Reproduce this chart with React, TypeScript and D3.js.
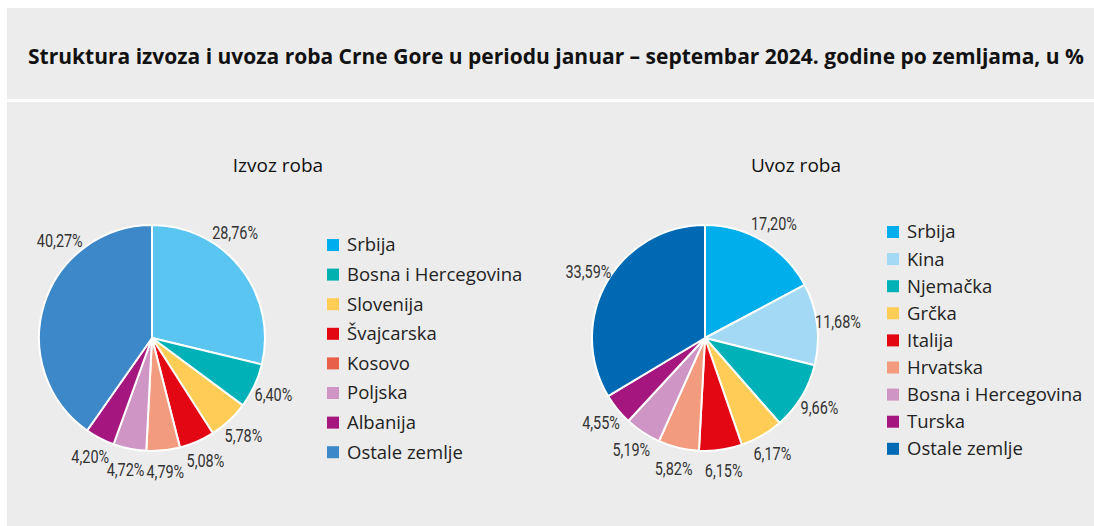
import React, { useEffect, useRef } from 'react';
import * as d3 from 'd3';

// Izvoz roba (export), % by country
const izvozCountries = ['Srbija', 'Bosna i Hercegovina', 'Slovenija', 'Švajcarska', 'Kosovo', 'Poljska', 'Albanija', 'Ostale zemlje'];
const izvozValues = [28.76, 6.40, 5.78, 5.08, 4.79, 4.72, 4.20, 40.27];

// Uvoz roba (import), % by country
const uvozCountries = ['Srbija', 'Kina', 'Njemačka', 'Grčka', 'Italija', 'Hrvatska', 'Bosna i Hercegovina', 'Turska', 'Ostale zemlje'];
const uvozValues = [17.20, 11.68, 9.66, 6.17, 6.15, 5.82, 5.19, 4.55, 33.59];

const izvozSlice = ['#5bc5f2', '#00b1b7', '#ffcd55', '#e30613', '#f39b7f', '#cf95c4', '#a5177f', '#3d88c9'];
const izvozSwatch = ['#00aeef', '#00b1b0', '#ffcd55', '#e30613', '#e8604a', '#cf95c4', '#a5177f', '#3d88c9'];
const uvozSlice = ['#00aeeb', '#a3d9f5', '#00b1b7', '#ffcd55', '#e30613', '#f39b7f', '#cf95c4', '#a5177f', '#0069b4'];

// where along the slice the label sits (0 = start edge, 1 = end edge); default is the middle
const izvozLabelAt: Record<string, number> = { 'Srbija': 0.37, 'Ostale zemlje': 0.7 };

const W = 1094;
const H = 526;

const fmt = (v: number) => v.toFixed(2).replace('.', ',') + '%';

const App: React.FC = () => {
  const svgRef = useRef<SVGSVGElement>(null);

  useEffect(() => {
    document.body.style.margin = '0';
    if (!svgRef.current) return;
    const svg = d3.select(svgRef.current);
    svg.selectAll('*').remove();

    svg.append('rect').attr('width', W).attr('height', H).attr('fill', '#fff');
    svg.append('rect').attr('x', 7).attr('y', 8).attr('width', W - 7).attr('height', 91).attr('fill', '#ececec');
    svg.append('rect').attr('x', 7).attr('y', 102).attr('width', W - 7).attr('height', H - 102).attr('fill', '#ececec');

    // Title
    svg.append('text')
      .attr('x', 556)
      .attr('y', 64)
      .attr('text-anchor', 'middle')
      .style('font-family', '"Open Sans", "Noto Sans", sans-serif')
      .style('font-size', '21px')
      .style('font-weight', 'bold')
      .style('fill', '#111')
      .text('Struktura izvoza i uvoza roba Crne Gore u periodu januar – septembar 2024. godine po zemljama, u %');

    const drawPie = (
      cx: number, cy: number, r: number,
      names: string[], values: number[], fills: string[],
      labelAt: Record<string, number>
    ) => {
      const pie = d3.pie<number>().sort(null).value(d => d);
      const arcs = pie(values);
      const arc = d3.arc<d3.PieArcDatum<number>>().innerRadius(0).outerRadius(r);
      const g = svg.append('g').attr('transform', `translate(${cx},${cy})`);

      g.selectAll('path')
        .data(arcs)
        .enter().append('path')
        .attr('d', arc)
        .attr('fill', (_, i) => fills[i])
        .attr('stroke', '#fff')
        .attr('stroke-width', 2)
        .attr('stroke-linejoin', 'round');

      // labels just outside the rim, squeezed horizontally like a condensed face
      const labelR = r + 21;
      g.selectAll('.lbl')
        .data(arcs)
        .enter().append('text')
        .attr('class', 'lbl')
        .attr('transform', (d, i) => {
          const t = labelAt[names[i]] ?? 0.5;
          const a = d.startAngle + (d.endAngle - d.startAngle) * t;
          return `translate(${Math.sin(a) * labelR},${-Math.cos(a) * labelR}) scale(0.78,1)`;
        })
        .attr('text-anchor', 'middle')
        .attr('dy', '0.35em')
        .style('font-family', '"Liberation Sans Narrow", "Roboto", sans-serif')
        .style('font-size', '18.5px')
        .style('fill', '#333')
        .text(d => fmt(d.data));
    };

    const drawLegend = (x: number, y0: number, step: number, names: string[], fills: string[]) => {
      const y = d3.scalePoint<string>().domain(names).range([y0, y0 + step * (names.length - 1)]);
      const g = svg.append('g');
      const row = g.selectAll('g')
        .data(names)
        .enter().append('g')
        .attr('transform', d => `translate(${x},${y(d)})`);
      row.append('rect')
        .attr('x', 0).attr('y', -6).attr('width', 12).attr('height', 12)
        .attr('fill', (_, i) => fills[i]);
      row.append('text')
        .attr('x', 20)
        .attr('dy', '0.35em')
        .style('font-family', '"Open Sans", "Noto Sans", sans-serif')
        .style('font-size', '18.5px')
        .style('fill', '#222')
        .text(d => d);
    };

    // Subtitles
    const sub = (x: number, label: string) => svg.append('text')
      .attr('x', x).attr('y', 172)
      .attr('text-anchor', 'middle')
      .style('font-family', '"Open Sans", "Noto Sans", sans-serif')
      .style('font-size', '19px')
      .style('fill', '#111')
      .text(label);
    sub(278, 'Izvoz roba');
    sub(796, 'Uvoz roba');

    drawPie(152, 338, 113, izvozCountries, izvozValues, izvozSlice, izvozLabelAt);
    drawLegend(327, 245, 29.6, izvozCountries, izvozSwatch);

    drawPie(705, 338, 113, uvozCountries, uvozValues, uvozSlice, {});
    drawLegend(887, 232, 27.1, uvozCountries, uvozSlice);
  }, []);

  return <svg ref={svgRef} width={W} height={H} style={{ display: 'block' }}></svg>;
};

export default App;
